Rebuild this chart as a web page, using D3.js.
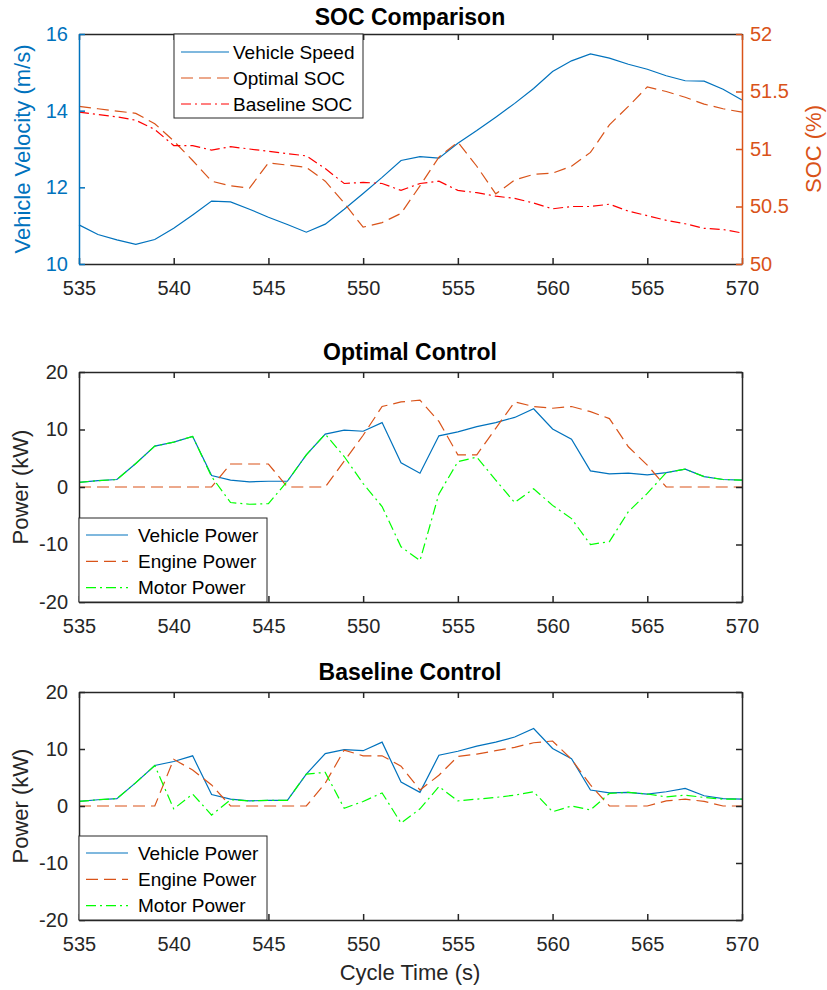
<!DOCTYPE html>
<html>
<head>
<meta charset="utf-8">
<script src="https://cdnjs.cloudflare.com/ajax/libs/d3/7.8.5/d3.min.js"></script>
<style>
  body { margin: 0; background: #fff; }
  text { font-family: "Liberation Sans", Arial, Helvetica, sans-serif; }
</style>
</head>
<body>
<div id="chart"></div>
<script>
///////////////////////////////////////////////////////////////////////////
////////////////////////////////// Data ///////////////////////////////////
///////////////////////////////////////////////////////////////////////////
var time = [535, 536, 537, 538, 539, 540, 541, 542, 543, 544, 545, 546,
  547, 548, 549, 550, 551, 552, 553, 554, 555, 556, 557, 558,
  559, 560, 561, 562, 563, 564, 565, 566, 567, 568, 569, 570]

var vehicleSpeed = [11.02, 10.77, 10.63, 10.51, 10.64, 10.93, 11.28, 11.64, 11.62, 11.43, 11.22, 11.03,
  10.83, 11.04, 11.43, 11.84, 12.26, 12.70, 12.80, 12.76, 13.15, 13.48, 13.83, 14.19,
  14.58, 15.02, 15.30, 15.48, 15.37, 15.21, 15.08, 14.91, 14.78, 14.77, 14.56, 14.28]

var optimalSOC = [51.37, 51.35, 51.33, 51.31, 51.22, 51.07, 50.90, 50.72, 50.68, 50.66, 50.88, 50.86,
  50.84, 50.72, 50.53, 50.32, 50.36, 50.44, 50.68, 50.93, 51.06, 50.85, 50.61, 50.73,
  50.78, 50.79, 50.85, 50.97, 51.21, 51.37, 51.54, 51.50, 51.45, 51.39, 51.35, 51.32]

var baselineSOC = [51.32, 51.30, 51.28, 51.25, 51.17, 51.03, 51.03, 50.99, 51.02, 51.00, 50.98, 50.96,
  50.94, 50.83, 50.70, 50.71, 50.70, 50.64, 50.70, 50.72, 50.64, 50.62, 50.59, 50.57,
  50.53, 50.48, 50.50, 50.50, 50.52, 50.46, 50.42, 50.38, 50.35, 50.31, 50.30, 50.27]

var vehiclePower = [0.8, 1.1, 1.3, 4.1, 7.1, 7.8, 8.8, 2.0, 1.2, 0.9, 1.0, 1.0,
  5.6, 9.2, 9.9, 9.7, 11.2, 4.2, 2.4, 8.9, 9.6, 10.5, 11.2, 12.1,
  13.6, 10.1, 8.3, 2.8, 2.3, 2.4, 2.1, 2.5, 3.1, 1.8, 1.3, 1.2]

var optEnginePower = [0, 0, 0, 0, 0, 0, 0, 0, 4.0, 4.0, 4.0, 0,
  0, 0, 4.5, 9.0, 14.0, 14.8, 15.1, 11.4, 5.6, 5.6, 10.2, 14.8,
  14.0, 13.7, 14.0, 13.1, 11.9, 7.0, 3.8, 0, 0, 0, 0, 0]

var optMotorPower = [0.8, 1.1, 1.3, 4.1, 7.1, 7.8, 8.8, 1.8, -2.7, -3.0, -2.9, 1.0,
  5.6, 9.2, 5.3, 0.6, -3.4, -10.4, -12.8, -1.2, 4.4, 5.2, 1.2, -2.7,
  -0.3, -3.2, -5.5, -10.0, -9.5, -4.3, -1.1, 2.5, 3.1, 1.8, 1.3, 1.2]

var baseEnginePower = [0, 0, 0, 0, 0, 8.2, 6.3, 3.7, 0, 0, 0, 0,
  0, 4.0, 9.8, 8.8, 8.8, 7.0, 2.8, 5.4, 8.7, 9.1, 9.7, 10.3,
  11.1, 11.4, 8.2, 3.7, 0, 0, 0, 0.9, 1.2, 0.8, 0, 0]

var baseMotorPower = [0.8, 1.1, 1.3, 4.1, 7.1, -0.5, 2.1, -1.6, 1.1, 0.9, 1.0, 1.0,
  5.6, 5.9, -0.4, 0.8, 2.3, -3.0, -0.5, 3.4, 0.9, 1.2, 1.5, 1.9,
  2.5, -1.0, 0, -0.7, 2.2, 2.4, 2.1, 1.6, 1.9, 1.5, 1.2, 1.2]

var xTicks = [535, 540, 545, 550, 555, 560, 565, 570]
var speedTicks = [10, 12, 14, 16]
var socTicks = [50, 50.5, 51, 51.5, 52]
var powerTicks = [-20, -10, 0, 10, 20]

///////////////////////////////////////////////////////////////////////////
///////////////////////////////// Globals /////////////////////////////////
///////////////////////////////////////////////////////////////////////////
var width = 827, height = 990
var BLUE = "#0072BD", ORANGE = "#D95319", RED = "#FF0000", GREEN = "#00FF00", AXIS = "#262626"
var DASH = "12,6", DASHDOT = "10,4,2,4"
var plain = function (d) { return String(d) }  // hyphen minus, no trailing .0

var svg = d3.select("#chart").append("svg")
  .attr("width", width)
  .attr("height", height)

var x = d3.scaleLinear().domain([535, 570]).range([79, 742])

///////////////////////////////////////////////////////////////////////////
/////////////////////////////// Helpers ///////////////////////////////////
///////////////////////////////////////////////////////////////////////////
function styleAxis(sel, color) {
  sel.select(".domain").attr("stroke", color).attr("stroke-width", 1.5)
  sel.selectAll(".tick line").attr("stroke", color).attr("stroke-width", 1.5)
  sel.selectAll(".tick text").attr("fill", color).style("font-size", "20px")
}

function drawFrame(top, bottom, y, leftColor, yTickVals) {
  var g = svg.append("g")
  g.append("g").attr("transform", "translate(0," + bottom + ")")
    .call(d3.axisBottom(x).tickValues(xTicks).tickSizeInner(-6).tickSizeOuter(0).tickPadding(17).tickFormat(plain))
    .call(styleAxis, AXIS)
  g.append("g").attr("transform", "translate(0," + top + ")")
    .call(d3.axisTop(x).tickValues(xTicks).tickSizeInner(-6).tickSizeOuter(0).tickFormat(""))
    .call(styleAxis, AXIS)
  g.append("g").attr("transform", "translate(" + x.range()[0] + ",0)")
    .call(d3.axisLeft(y).tickValues(yTickVals).tickSizeInner(-6).tickSizeOuter(0).tickPadding(11).tickFormat(plain))
    .call(styleAxis, leftColor)
  return g
}

function drawLine(values, y, color, dash) {
  var line = d3.line()
    .x(function (d, i) { return x(time[i]) })
    .y(function (d) { return y(d) })
  svg.append("path")
    .datum(values)
    .attr("d", line)
    .attr("fill", "none")
    .attr("stroke", color)
    .attr("stroke-width", 1.2)
    .attr("stroke-dasharray", dash)
}

function drawLegend(box, items) {
  var g = svg.append("g")
  g.append("rect")
    .attr("x", box.x).attr("y", box.y)
    .attr("width", box.w).attr("height", box.h)
    .attr("fill", "#fff").attr("stroke", AXIS).attr("stroke-width", 1)
  items.forEach(function (d, i) {
    var cy = box.y + box.first + i * box.step
    g.append("line")
      .attr("x1", box.x + box.l1).attr("x2", box.x + box.l2)
      .attr("y1", cy).attr("y2", cy)
      .attr("stroke", d.color).attr("stroke-width", 1.2)
      .attr("stroke-dasharray", d.dash)
    g.append("text")
      .attr("x", box.x + box.tx).attr("y", cy)
      .attr("dy", "0.35em")
      .style("font-size", "19px")
      .attr("fill", "#000")
      .text(d.label)
  })
}

function title(txt, cy) {
  svg.append("text")
    .attr("x", 410).attr("y", cy).attr("dy", "0.35em")
    .attr("text-anchor", "middle")
    .style("font-size", "23px").style("font-weight", "bold")
    .text(txt)
}

function yLabel(txt, cx, cy, color) {
  svg.append("text")
    .attr("transform", "translate(" + cx + "," + cy + ") rotate(-90)")
    .attr("text-anchor", "middle").attr("dy", "0.35em")
    .attr("fill", color)
    .style("font-size", "22px")
    .text(txt)
}

///////////////////////////////////////////////////////////////////////////
///////////////////////////// SOC Comparison //////////////////////////////
///////////////////////////////////////////////////////////////////////////
var ySpeed = d3.scaleLinear().domain([10, 16]).range([264, 34])
var ySoc = d3.scaleLinear().domain([50, 52]).range([264, 34])

drawLine(vehicleSpeed, ySpeed, BLUE, null)
drawLine(optimalSOC, ySoc, ORANGE, DASH)
drawLine(baselineSOC, ySoc, RED, DASHDOT)
drawFrame(34, 264, ySpeed, BLUE, speedTicks)
svg.append("g").attr("transform", "translate(" + x.range()[1] + ",0)")
  .call(d3.axisRight(ySoc).tickValues(socTicks).tickSizeInner(-6).tickSizeOuter(0).tickPadding(8).tickFormat(plain))
  .call(styleAxis, ORANGE)

drawLegend({ x: 174, y: 34, w: 189, h: 84, first: 18, step: 26, l1: 7, l2: 55, tx: 59 }, [
  { label: "Vehicle Speed", color: BLUE, dash: null },
  { label: "Optimal SOC", color: ORANGE, dash: DASH },
  { label: "Baseline SOC", color: RED, dash: DASHDOT }
])
title("SOC Comparison", 17)
yLabel("Vehicle Velocity (m/s)", 22, 149, BLUE)
yLabel("SOC (%)", 813, 149, ORANGE)

///////////////////////////////////////////////////////////////////////////
///////////////////////////// Power panels ////////////////////////////////
///////////////////////////////////////////////////////////////////////////
function powerPanel(top, bottom, engine, motor, name) {
  var y = d3.scaleLinear().domain([-20, 20]).range([bottom, top])
  drawLine(vehiclePower, y, BLUE, null)
  drawLine(engine, y, ORANGE, DASH)
  drawLine(motor, y, GREEN, DASHDOT)
  drawFrame(top, bottom, y, AXIS, powerTicks)
  svg.append("g").attr("transform", "translate(" + x.range()[1] + ",0)")
    .call(d3.axisRight(y).tickValues(powerTicks).tickSizeInner(-6).tickSizeOuter(0).tickFormat(""))
    .call(styleAxis, AXIS)
  drawLegend({ x: 79, y: bottom - 84, w: 188, h: 84, first: 17, step: 26.3, l1: 7, l2: 49, tx: 59 }, [
    { label: "Vehicle Power", color: BLUE, dash: null },
    { label: "Engine Power", color: ORANGE, dash: DASH },
    { label: "Motor Power", color: GREEN, dash: DASHDOT }
  ])
  title(name, top - 20)
  yLabel("Power (kW)", 20, (top + bottom) / 2, AXIS)
}

powerPanel(372, 602, optEnginePower, optMotorPower, "Optimal Control")
powerPanel(692, 920, baseEnginePower, baseMotorPower, "Baseline Control")

svg.append("text")
  .attr("x", 410).attr("y", 972).attr("dy", "0.35em")
  .attr("text-anchor", "middle")
  .attr("fill", AXIS)
  .style("font-size", "22px")
  .text("Cycle Time (s)")
</script>
</body>
</html>
